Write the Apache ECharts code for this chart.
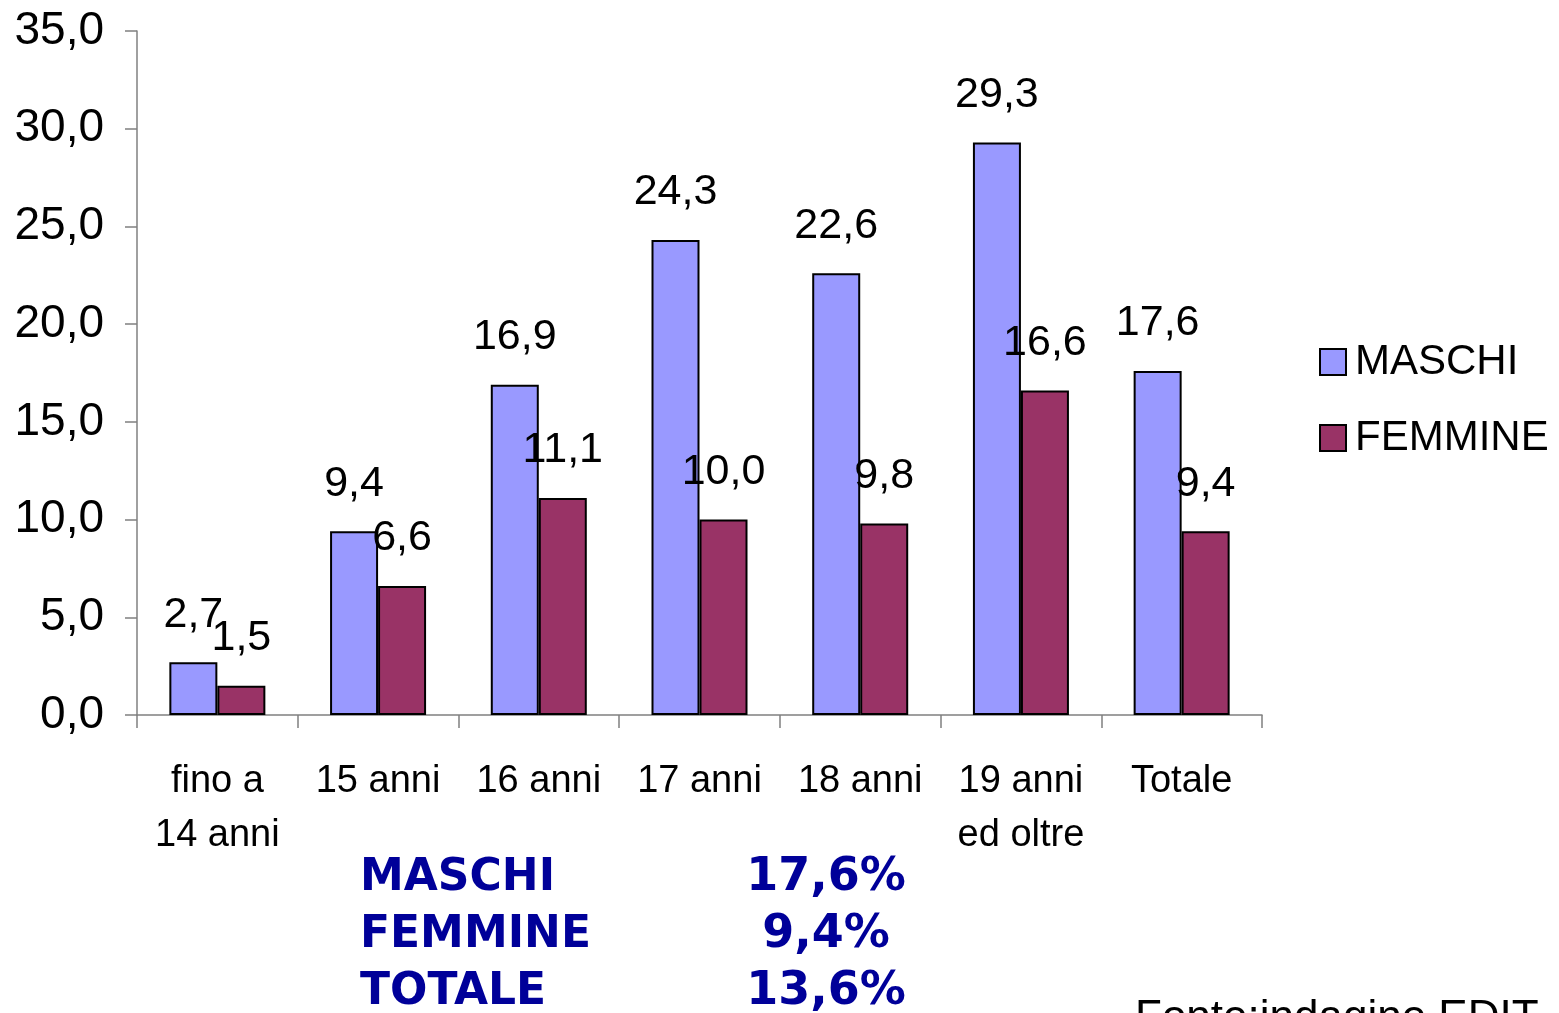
<!DOCTYPE html>
<html>
<head>
<meta charset="utf-8">
<script src="https://cdn.jsdelivr.net/npm/echarts@6/dist/echarts.min.js"></script>
<style>
  html, body { margin: 0; padding: 0; background: #fff; }
  #chart { width: 1559px; height: 1013px; }
</style>
</head>
<body>
<div id="chart"></div>
<script>
var categories = ['fino a\n14 anni', '15 anni', '16 anni', '17 anni', '18 anni', '19 anni\ned oltre', 'Totale'];
var maschi = [2.7, 9.4, 16.9, 24.3, 22.6, 29.3, 17.6];
var femmine = [1.5, 6.6, 11.1, 10.0, 9.8, 16.6, 9.4];
var summaryNames = ['MASCHI', 'FEMMINE', 'TOTALE'];
var summaryValues = ['17,6%', '9,4%', '13,6%'];
var sourceNote = 'Fonte:indagine EDIT';

var comma = function (v) {
    return Number(v).toFixed(1).replace('.', ',');
};

var labelStyle = {
    show: true,
    position: 'top',
    distance: 26,
    color: '#000',
    fontFamily: 'Liberation Sans, Arial, sans-serif',
    fontSize: 43,
    formatter: function (p) { return comma(p.value); }
};

var chart = echarts.init(document.getElementById('chart'));

var graphics = [];
summaryNames.forEach(function (name, i) {
    graphics.push({
        type: 'text',
        left: 360,
        top: 857 + i * 57,
        style: {
            text: name,
            fill: '#000099',
            font: 'bold 44px "DejaVu Sans", Verdana, sans-serif'
        }
    });
    graphics.push({
        type: 'text',
        x: 826,
        y: 855 + i * 57,
        style: {
            text: summaryValues[i],
            fill: '#000099',
            align: 'center',
            font: 'bold 46px "DejaVu Sans", Verdana, sans-serif'
        }
    });
});
graphics.push({
    type: 'text',
    left: 1135,
    top: 997,
    style: {
        text: sourceNote,
        fill: '#000',
        font: '44px "Liberation Sans", Arial, sans-serif'
    }
});

chart.setOption({
    animation: false,
    backgroundColor: '#fff',
    grid: {
        left: 137,
        right: 297,
        top: 31,
        bottom: 298
    },
    legend: {
        orient: 'vertical',
        left: 1314,
        top: 336,
        itemWidth: 26,
        itemHeight: 26,
        itemGap: 34,
        icon: 'rect',
        data: ['MASCHI', 'FEMMINE'],
        itemStyle: { borderColor: '#000', borderWidth: 2 },
        textStyle: {
            color: '#000',
            fontFamily: 'Liberation Sans, Arial, sans-serif',
            fontSize: 42,
            padding: [0, 0, 0, 4]
        }
    },
    xAxis: {
        type: 'category',
        data: categories,
        axisLine: { lineStyle: { color: '#808080', width: 1.5 } },
        axisTick: { show: true, alignWithLabel: false, length: 13, lineStyle: { color: '#808080', width: 1.5 } },
        axisLabel: {
            color: '#000',
            fontFamily: 'Liberation Sans, Arial, sans-serif',
            fontSize: 38,
            lineHeight: 54,
            margin: 40,
            interval: 0
        }
    },
    yAxis: {
        type: 'value',
        min: 0,
        max: 35,
        interval: 5,
        splitLine: { show: false },
        axisLine: { show: true, lineStyle: { color: '#808080', width: 1.5 } },
        axisTick: { show: true, length: 12, lineStyle: { color: '#808080', width: 1.5 } },
        axisLabel: {
            color: '#000',
            fontFamily: 'Liberation Sans, Arial, sans-serif',
            fontSize: 46,
            margin: 33,
            formatter: comma
        }
    },
    series: [
        {
            name: 'MASCHI',
            type: 'bar',
            data: maschi,
            barWidth: 48,
            barGap: '0%',
            itemStyle: { color: '#9999FF', borderColor: '#000', borderWidth: 2 },
            label: labelStyle
        },
        {
            name: 'FEMMINE',
            type: 'bar',
            data: femmine,
            barWidth: 48,
            barGap: '0%',
            itemStyle: { color: '#993366', borderColor: '#000', borderWidth: 2 },
            label: labelStyle
        }
    ],
    graphic: graphics
});
</script>
</body>
</html>
